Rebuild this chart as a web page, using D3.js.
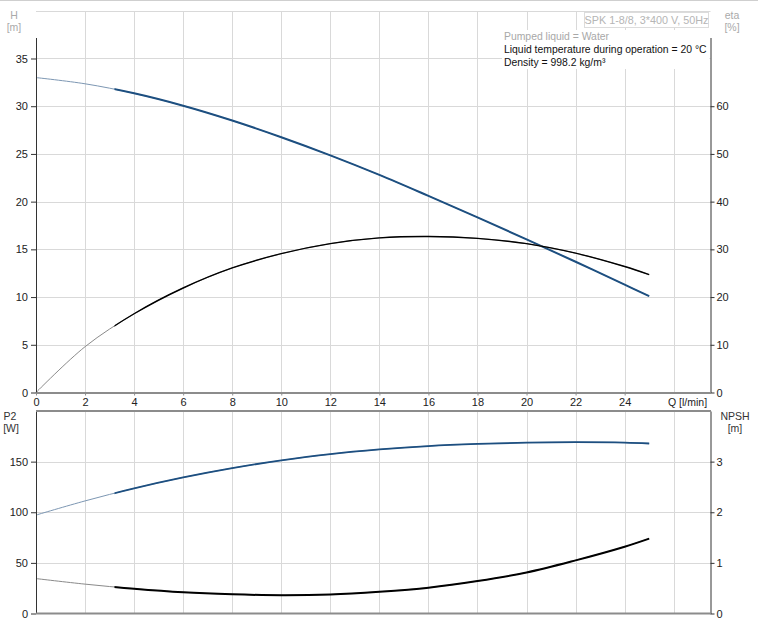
<!DOCTYPE html>
<html><head><meta charset="utf-8">
<script src="https://cdn.jsdelivr.net/npm/d3@7"></script>
<style>body{margin:0;background:#fff;} svg{display:block;font-family:"Liberation Sans",Arial,sans-serif;}</style>
</head><body><svg id="c" width="758" height="623"></svg>
<script>
// ---- data ----
const flow  = [0, 2, 4, 6, 8, 10, 12, 14, 16, 18, 20, 22, 24, 25];
const head  = [33.0, 32.35, 31.35, 30.05, 28.5, 26.75, 24.85, 22.8, 20.6, 18.35, 16.05, 13.7, 11.3, 10.1];
const eta   = [0, 9.6, 16.5, 21.9, 26.1, 29.1, 31.2, 32.4, 32.7, 32.3, 31.2, 29.2, 26.4, 24.7];
const power = [97.2, 111.2, 123.6, 134.4, 143.6, 151.2, 157.4, 162.0, 165.4, 167.5, 168.8, 169.2, 168.8, 167.9];
const npsh  = [0.69, 0.58, 0.49, 0.42, 0.38, 0.36, 0.375, 0.43, 0.51, 0.64, 0.81, 1.05, 1.32, 1.48];
const qTicks   = [0, 2, 4, 6, 8, 10, 12, 14, 16, 18, 20, 22, 24];
const qGrid    = [2, 4, 6, 8, 10, 12, 14, 16, 18, 20, 22, 24, 26];
const hTicks   = [0, 5, 10, 15, 20, 25, 30, 35];
const etaTicks = [0, 10, 20, 30, 40, 50, 60];
const pTicks   = [0, 50, 100, 150];
const nTicks   = [0, 1, 2, 3];
const qMinOp = 3.2;
const titleText = "SPK 1-8/8, 3*400 V, 50Hz";
const infoLines = ["Pumped liquid = Water", "Liquid temperature during operation = 20 °C", "Density = 998.2 kg/m³"];

// ---- layout ----
const svg = d3.select("#c");
const L = 36, R = 710.5;
const x = d3.scaleLinear().domain([0, 27.5]).range([L, R]);
const yH = d3.scaleLinear().domain([0, 37.2]).range([392.5, 37.5]);
const yE = d3.scaleLinear().domain([0, 74.4]).range([392.5, 37.5]);
const yP = d3.scaleLinear().domain([0, 200]).range([613.5, 411]);
const yN = d3.scaleLinear().domain([0, 4]).range([613.5, 411]);
const topFrame = 11.5;
const blue = "#1d4f80", gridC = "#d9d9d9", axisGray = "#8c8c8c", txt = "#222";
const fmt = d3.format("d");

// page top line
svg.append("line").attr("x1",0).attr("x2",758).attr("y1",0.5).attr("y2",0.5).attr("stroke","#cfcfcf");

// ---- grids ----
const g = svg.append("g");
g.selectAll(".vg1").data(qGrid).join("line")
  .attr("x1", d=>Math.round(x(d))+0.5).attr("x2", d=>Math.round(x(d))+0.5)
  .attr("y1", topFrame).attr("y2", yH(0)).attr("stroke", gridC);
g.selectAll(".hg1").data(hTicks.slice(1)).join("line")
  .attr("x1", L).attr("x2", R).attr("y1", d=>Math.round(yH(d))+0.5).attr("y2", d=>Math.round(yH(d))+0.5)
  .attr("stroke", gridC);
g.append("line").attr("x1",L).attr("x2",R).attr("y1",topFrame).attr("y2",topFrame).attr("stroke",gridC);
g.selectAll(".vg2").data(qGrid).join("line")
  .attr("x1", d=>Math.round(x(d))+0.5).attr("x2", d=>Math.round(x(d))+0.5)
  .attr("y1", yP(200)).attr("y2", yP(0)).attr("stroke", gridC);
g.selectAll(".hg2").data(pTicks.slice(1)).join("line")
  .attr("x1", L).attr("x2", R).attr("y1", d=>Math.round(yP(d))+0.5).attr("y2", d=>Math.round(yP(d))+0.5)
  .attr("stroke", gridC);

// ---- header box & info ----
svg.append("rect").attr("x",502).attr("y",30).attr("width",R-503).attr("height",39).attr("fill","#fff");
svg.append("rect").attr("x",584.5).attr("y",12.5).attr("width",124).attr("height",15)
  .attr("fill","#fff").attr("stroke","#dcdcdc");
svg.append("text").attr("x",646.5).attr("y",24).attr("text-anchor","middle")
  .attr("font-size",10.8).attr("fill","#b5b5b5").text(titleText);
svg.selectAll(".info").data(infoLines).join("text")
  .attr("x",504).attr("y",(d,i)=>40+i*13).attr("font-size",10.4)
  .attr("fill",(d,i)=>i===0?"#a8a8a8":"#111").text(d=>d);

// ---- curves ----
const clip = svg.append("defs").append("clipPath").attr("id","op");
clip.append("rect").attr("x", x(qMinOp)).attr("y", 0).attr("width", 758 - x(qMinOp)).attr("height", 623);

function curve(vals, ys, color, thinColor, w) {
  const pts = flow.map((q,i)=>[x(q), ys(vals[i])]);
  const line = d3.line().curve(d3.curveCatmullRom.alpha(0.5));
  svg.append("path").attr("d", line(pts)).attr("fill","none").attr("stroke",thinColor).attr("stroke-width",1);
  svg.append("path").attr("d", line(pts)).attr("fill","none").attr("stroke",color)
    .attr("stroke-width",w).attr("clip-path","url(#op)");
}
curve(head, yH, blue, "#7d97b3", 2);
curve(eta, yE, "#000", "#8a8a8a", 1.4);
curve(power, yP, blue, "#7d97b3", 1.8);
curve(npsh, yN, "#000", "#8a8a8a", 2);

// ---- axes ----
function styleAxis(sel, lineColor, width) {
  sel.selectAll("text").attr("fill", txt).style("font-size","11px").style("font-family",'"Liberation Sans",Arial,sans-serif');
  sel.selectAll(".tick line").attr("stroke","#333");
  sel.select(".domain").attr("stroke", lineColor).attr("stroke-width", width);
}
const axL1 = svg.append("g").attr("transform",`translate(${L},0)`)
  .call(d3.axisLeft(yH).tickValues(hTicks).tickFormat(fmt).tickSize(5).tickSizeOuter(0).tickPadding(3));
styleAxis(axL1, "#333", 1);
const axR1 = svg.append("g").attr("transform",`translate(${R},0)`)
  .call(d3.axisRight(yE).tickValues(etaTicks).tickFormat(fmt).tickSize(4).tickSizeOuter(0).tickPadding(2));
styleAxis(axR1, "#333", 1);
const axB1 = svg.append("g").attr("transform",`translate(0,${yH(0)})`)
  .call(d3.axisBottom(x).tickValues(qTicks).tickFormat(fmt).tickSize(3).tickSizeOuter(0).tickPadding(3));
styleAxis(axB1, axisGray, 2);
axB1.selectAll(".tick line").attr("stroke", axisGray);

const axL2 = svg.append("g").attr("transform",`translate(${L},0)`)
  .call(d3.axisLeft(yP).tickValues(pTicks).tickFormat(fmt).tickSize(5).tickSizeOuter(0).tickPadding(3));
styleAxis(axL2, "#333", 1);
const axR2 = svg.append("g").attr("transform",`translate(${R},0)`)
  .call(d3.axisRight(yN).tickValues(nTicks).tickFormat(fmt).tickSize(4).tickSizeOuter(0).tickPadding(2));
styleAxis(axR2, "#333", 1);
svg.append("line").attr("x1",L).attr("x2",R+0.5).attr("y1",yP(200)).attr("y2",yP(200)).attr("stroke",axisGray).attr("stroke-width",2);
svg.append("line").attr("x1",L).attr("x2",R+0.5).attr("y1",yP(0)).attr("y2",yP(0)).attr("stroke",axisGray).attr("stroke-width",2);

// ---- axis titles ----
function label(t, xx, yy, col, anchor) {
  svg.append("text").attr("x",xx).attr("y",yy).attr("font-size",10.5).attr("fill",col)
    .attr("text-anchor",anchor||"middle").text(t);
}
label("H", 14, 19, "#aaa"); label("[m]", 14, 31, "#aaa");
label("eta", 732, 19, "#aaa"); label("[%]", 732, 31, "#aaa");
label("P2", 10, 420, "#333"); label("[W]", 11, 432, "#333");
label("NPSH", 735, 420, "#333"); label("[m]", 735, 432, "#333");
label("Q [l/min]", 668, 406, txt, "start");
</script></body></html>
